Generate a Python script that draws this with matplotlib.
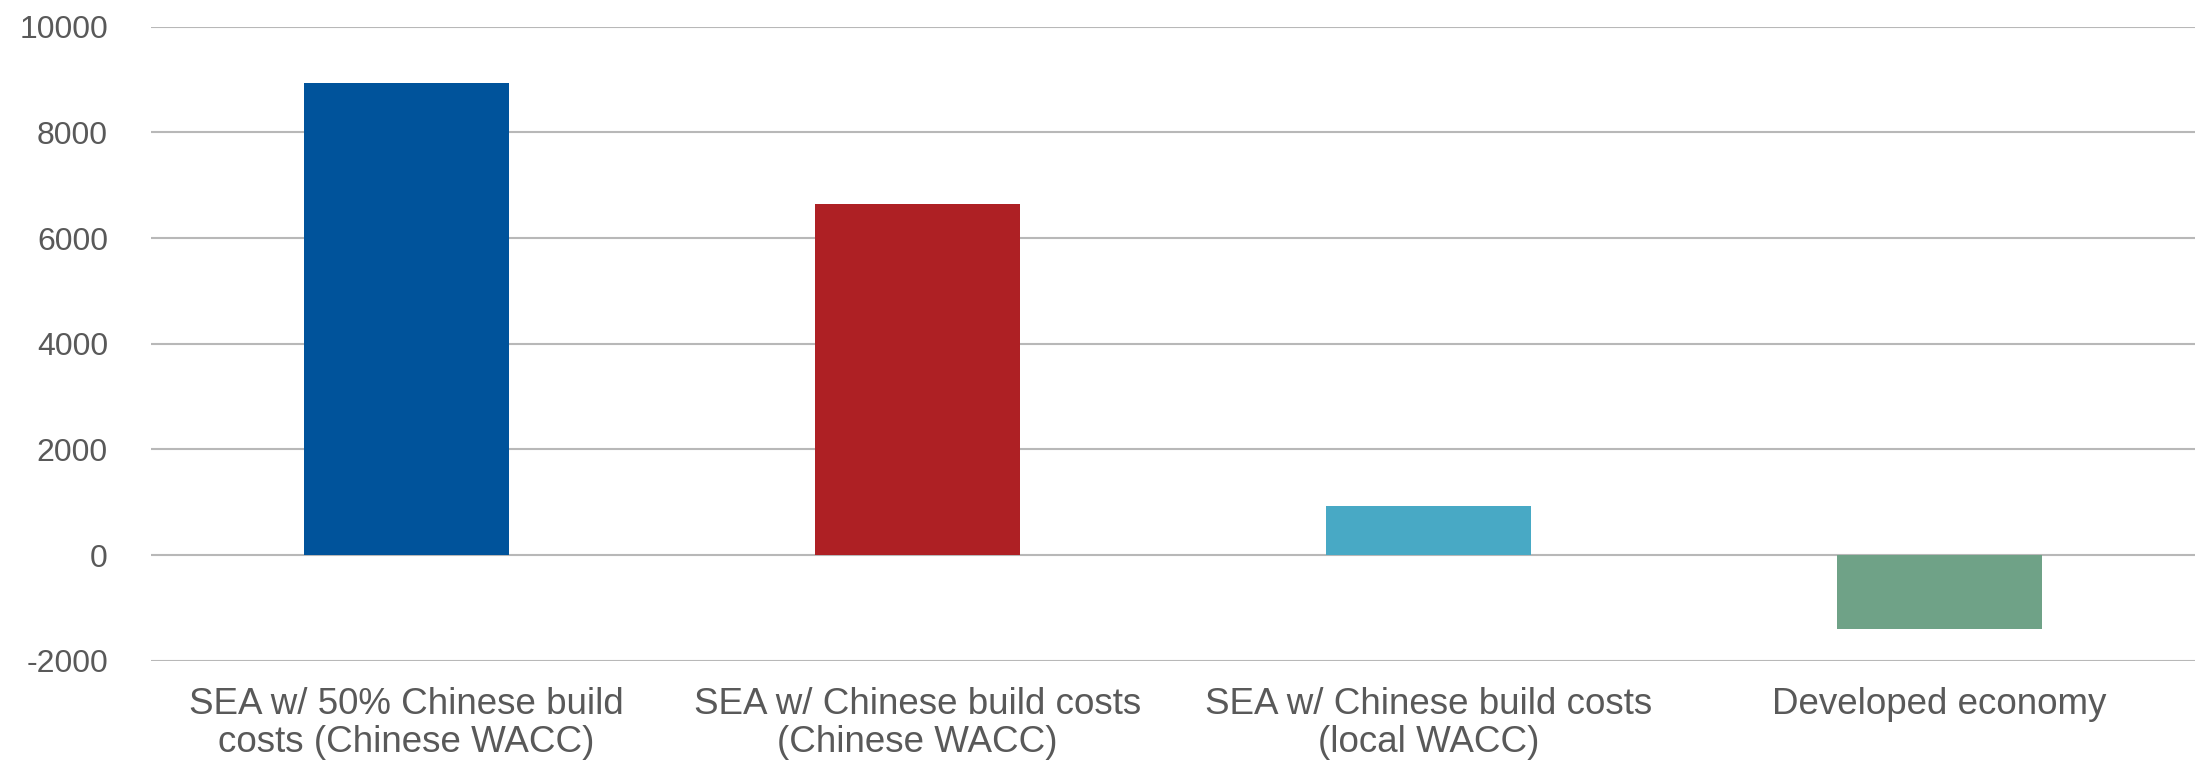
import matplotlib
matplotlib.use("Agg")
import matplotlib.pyplot as plt

categories = [
    "SEA w/ 50% Chinese build\ncosts (Chinese WACC)",
    "SEA w/ Chinese build costs\n(Chinese WACC)",
    "SEA w/ Chinese build costs\n(local WACC)",
    "Developed economy",
]
values = [8925, 6650, 920, -1400]
colors = ["#00539B", "#AE2024", "#48A9C5", "#6FA287"]
yticks = [-2000, 0, 2000, 4000, 6000, 8000, 10000]

plt.rcParams["font.family"] = ["Liberation Sans", "DejaVu Sans"]

fig = plt.figure(figsize=(21.95, 7.67), dpi=100)
ax = fig.add_axes([0.0688, 0.1385, 0.9312, 0.8268])

x = range(len(categories))
ax.bar(x, values, width=0.4, color=colors, zorder=3)

ax.set_xlim(-0.5, len(categories) - 0.5)
ax.set_ylim(-2000, 10000)
ax.set_yticks(yticks)
ax.set_yticklabels([str(v) for v in yticks])
ax.set_xticks(list(x))
ax.set_xticklabels(categories, linespacing=1.1)

ax.grid(axis="y", color="#b8b8b8", linewidth=1.5, zorder=0)
ax.tick_params(axis="y", length=0, pad=31, labelsize=23, labelcolor="#595959")
ax.tick_params(axis="x", length=0, pad=19, labelsize=26.5, labelcolor="#595959")
for s in ax.spines.values():
    s.set_visible(False)

fig.savefig("out.png", dpi=100, facecolor="white")
